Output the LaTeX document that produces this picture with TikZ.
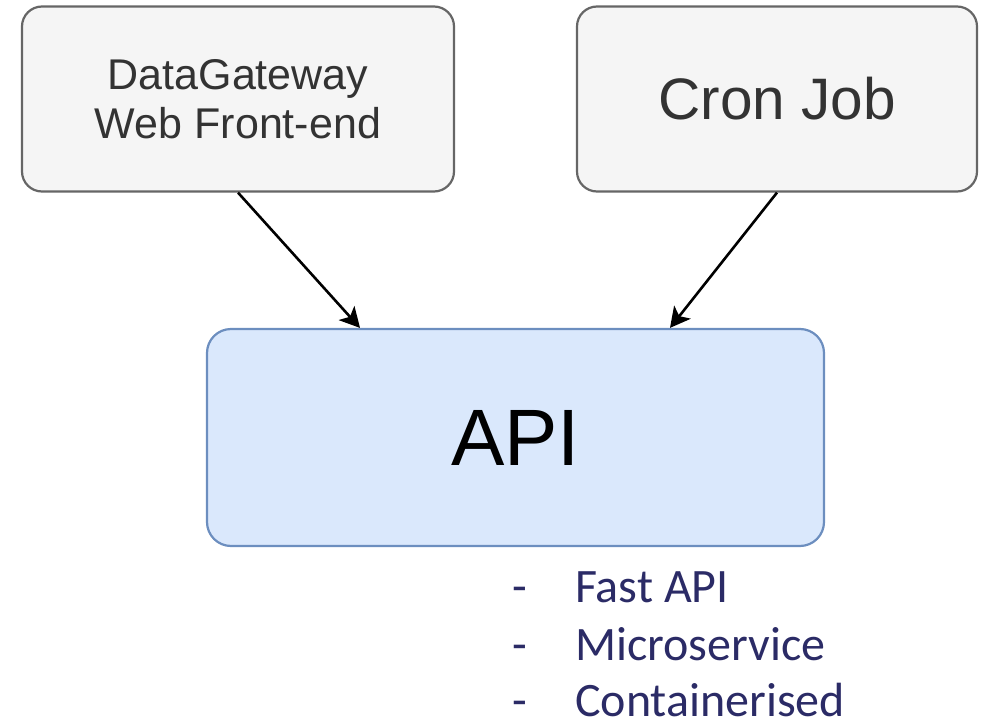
\documentclass[tikz,border=0pt]{standalone}
\usepackage{fontspec}
\setmainfont{Liberation Sans}
\newfontfamily\listfont{Carlito}
\usetikzlibrary{arrows.meta}
\definecolor{greyfill}{HTML}{F5F5F5}
\definecolor{greyline}{HTML}{666666}
\definecolor{greytext}{HTML}{333333}
\definecolor{bluefill}{HTML}{DAE8FC}
\definecolor{blueline}{HTML}{6C8EBF}
\definecolor{listcol}{HTML}{2B2B66}
\tikzset{
  greybox/.style={draw=greyline, fill=greyfill, line width=2.2pt, rounded corners=20pt, text=greytext, align=center, inner sep=0pt},
  bluebox/.style={draw=blueline, fill=bluefill, line width=2.2pt, rounded corners=24pt, text=black, align=center, inner sep=0pt},
  conn/.style={line width=2.6pt, -{Stealth[length=20pt,width=21pt,inset=5pt]}},
  listitem/.style={anchor=base west, inner sep=0pt, text depth=0pt, text=listcol, font=\listfont\fontsize{48}{57.5}\selectfont},
}
\begin{document}
\begin{tikzpicture}[x=1pt,y=-1pt]
\useasboundingbox (0,0) rectangle (986,720);
\node[greybox, minimum width=432pt, minimum height=185pt, font=\fontsize{43}{49}\selectfont] (web) at (238,99) {DataGateway\\Web Front-end};
\node[greybox, minimum width=400pt, minimum height=185pt, font=\fontsize{58.5}{66}\selectfont] (cron) at (777,99) {Cron Job};
\node[bluebox, minimum width=617pt, minimum height=217pt, font=\fontsize{80}{90}\selectfont] (api) at (515.5,437.5) {API};
\draw[conn] (web.south) -- ([xshift=-155.5pt]api.north);
\draw[conn] (cron.south) -- ([xshift=154.5pt]api.north);
\node[listitem] (item1) at (512,602) {\makebox[63pt][l]{-}Fast API};
\node[listitem] (item2) at (512,660) {\makebox[63pt][l]{-}Microservice};
\node[listitem] (item3) at (512,716) {\makebox[63pt][l]{-}Containerised};
\end{tikzpicture}
\end{document}
